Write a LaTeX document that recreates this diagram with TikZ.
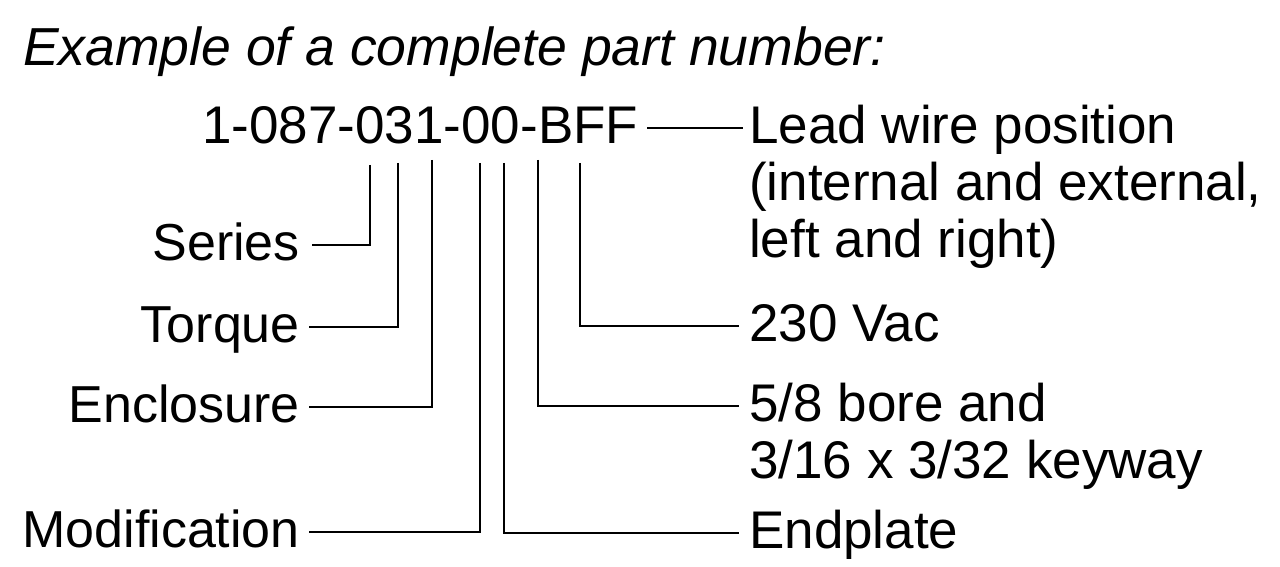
\documentclass[tikz,border=0pt]{standalone}
\usepackage{fontspec}
\setmainfont{Liberation Sans}
\usetikzlibrary{positioning}
\begin{document}
\begin{tikzpicture}[x=1pt,y=-1pt,
		Label/.style={font=\fontsize{53}{57}\selectfont,text height=30pt,text depth=0pt,inner sep=0pt},
		LeftLabel/.style={Label,font=\fontsize{52}{57}\selectfont,anchor=east},
		RightLabel/.style={Label,anchor=west},
		NextLine/.style={Label,below=27pt of #1.south west,anchor=north west},
		Leader/.style={line width=2pt,shorten >=9pt}]
				\useasboundingbox (0,0) rectangle (1280,567);
				\node[Label,anchor=west,font=\fontsize{53.5}{57}\selectfont\itshape] (Title) at (23,51) {Example of a complete part number:};
				\node[Label,anchor=west] (Part) at (202,128) {1-087-031-00-BFF};
				\node[RightLabel] (Lead) at (749,128) {Lead wire position};
				\node[NextLine=Lead] (LeadB) {(internal and external,};
				\node[NextLine=LeadB] (LeadC) {left and right)};
				\node[LeftLabel] (Series) at (300,245) {Series};
				\node[LeftLabel] (Torque) at (300,327) {Torque};
				\node[LeftLabel] (Enclosure) at (300,407) {Enclosure};
				\node[LeftLabel] (Modification) at (300,532) {Modification};
				\node[RightLabel] (Vac) at (749,326) {230 Vac};
				\node[RightLabel] (Bore) at (749,406) {5/8 bore and};
				\node[NextLine=Bore] (Keyway) {3/16 x 3/32 keyway};
				\node[RightLabel] (Endplate) at (749,533) {Endplate};
				\coordinate (SeriesTap) at (370,165);
				\coordinate (TorqueTap) at (398,163);
				\coordinate (EnclosureTap) at (432,160);
				\coordinate (ModificationTap) at (480,163);
				\coordinate (EndplateTap) at (504,163);
				\coordinate (BoreTap) at (538,160);
				\coordinate (VacTap) at (580,163);
				\draw[Leader,shorten <=9pt,shorten >=6pt] (Part) -- (Lead);
				\draw[Leader,shorten >=12pt] (SeriesTap) |- (Series);
				\draw[Leader] (TorqueTap) |- (Torque);
				\draw[Leader] (EnclosureTap) |- (Enclosure);
				\draw[Leader] (ModificationTap) |- (Modification);
				\draw[Leader,shorten >=10pt] (EndplateTap) |- (Endplate);
				\draw[Leader,shorten >=10pt] (BoreTap) |- (Bore);
				\draw[Leader,shorten >=10pt] (VacTap) |- (Vac);
			\end{tikzpicture}
\end{document}
